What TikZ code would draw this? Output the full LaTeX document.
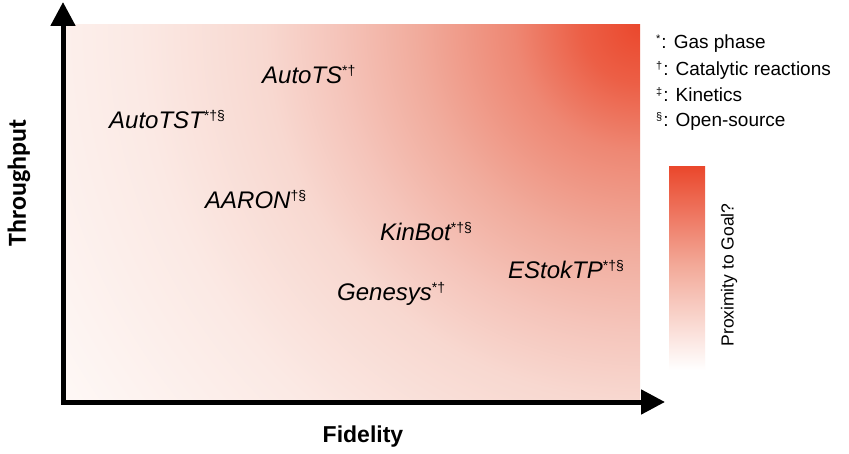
\documentclass[tikz,border=0pt]{standalone}
\usepackage{fontspec}
\setmainfont{Liberation Sans}
\newfontfamily\carlito{Carlito}
\usetikzlibrary{arrows.meta}
\definecolor{goalred}{RGB}{234,72,45}
\definecolor{gA}{RGB}{236,95,70}
\definecolor{gB}{RGB}{238,135,115}
\definecolor{gC}{RGB}{241,172,157}
\definecolor{gD}{RGB}{245,197,187}
\definecolor{gE}{RGB}{248,216,208}
\definecolor{gF}{RGB}{251,233,228}
\definecolor{gG}{RGB}{254,248,246}
\definecolor{barmid}{RGB}{243,172,156}
\pgfdeclareradialshading{goalshade}{\pgfpoint{0bp}{0bp}}{color(0bp)=(goalred); color(2.1bp)=(gA); color(4.5bp)=(gB); color(8bp)=(gC); color(10.9bp)=(gD); color(13.4bp)=(gE); color(17.9bp)=(gF); color(24.6bp)=(gG); color(25bp)=(gG); color(50bp)=(gG)}
\newcommand\sy[1]{\raisebox{8.5pt}{\upshape\fontsize{14}{14}\selectfont #1}}
\newcommand\ls[1]{\raisebox{6pt}{\fontsize{11}{11}\selectfont #1}}
\begin{document}
\begin{tikzpicture}[x=1pt,y=-1pt,
  lbl/.style={anchor=base west, inner sep=0pt, font=\fontsize{24}{28}\selectfont\itshape},
  leg/.style={anchor=base west, inner sep=0pt, font=\fontsize{19}{23}\selectfont},
  axis/.style={line width=5pt, {Triangle[length=24pt,width=24pt]}-{Triangle[length=24pt,width=24pt]}}]
\useasboundingbox (0,0) rectangle (849,454);
\fill[white] (0,0) rectangle (849,454);
% gradient field
\begin{scope}
\clip (65,25) rectangle (640,400);
\shade[shading=goalshade] (640,25) circle[radius=700];
\end{scope}
% axes
\coordinate (ytop) at (63,2);
\coordinate (origin) at (63,402);
\coordinate (xend) at (665,402);
\draw[axis] (ytop) -- (origin) -- (xend);
\node[font=\carlito\bfseries\fontsize{26}{30}\selectfont, rotate=90] (thr) at (19,183) {Throughput};
\node[font=\bfseries\fontsize{23}{27}\selectfont] (fid) at (363,437) {Fidelity};
% labels
\node[lbl] (autots) at (262,84) {AutoTS\sy{*†}};
\node[lbl] (autotst) at (109,129) {AutoTST\sy{*†§}};
\node[lbl] (aaron) at (205,209) {AARON\sy{†§}};
\node[lbl] (kinbot) at (380,241) {KinBot\sy{*†§}};
\node[lbl] (estoktp) at (508,279) {EStokTP\sy{*†§}};
\node[lbl] (genesys) at (337,301) {Genesys\sy{*†}};
% legend
\node[leg] (l1) at (656,49) {\ls{*}\kern1pt: Gas phase};
\node[leg] (l2) at (656,76) {\ls{†}\kern1pt: Catalytic reactions};
\node[leg] (l3) at (656,102) {\ls{‡}\kern1pt: Kinetics};
\node[leg] (l4) at (656,127) {\ls{§}\kern1pt: Open-source};
% colour bar
\shade[top color=goalred, bottom color=white, middle color=barmid] (669,167) rectangle (705,370);
\node[font=\fontsize{17.5}{21}\selectfont, rotate=90] (prox) at (729,275) {Proximity to Goal?};
\end{tikzpicture}
\end{document}
